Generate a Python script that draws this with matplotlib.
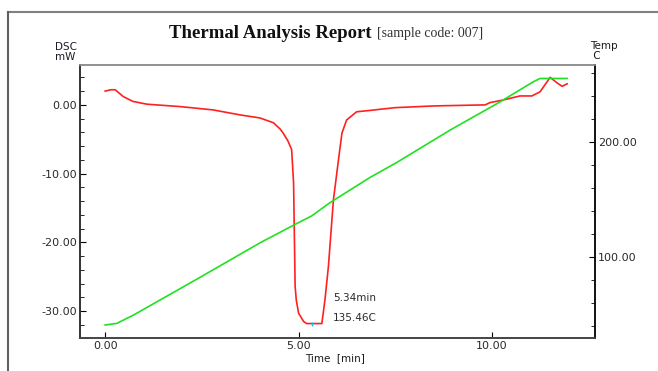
import matplotlib
matplotlib.use('Agg')
import matplotlib.pyplot as plt
from matplotlib.lines import Line2D

# DSC signal (left axis), time in minutes
dsc_time = [0.0, 0.15, 0.26, 0.47, 0.72, 1.08, 1.94, 2.79, 3.49, 4.0, 4.35, 4.52,
            4.60, 4.72, 4.82, 4.87, 4.91, 4.94, 5.0, 5.13, 5.21, 5.6, 5.68, 5.77,
            5.9, 6.03, 6.12, 6.24, 6.5, 6.85, 7.5, 8.5, 9.82, 9.95, 10.28, 10.72,
            11.03, 11.24, 11.5, 11.68, 11.81, 11.94]
dsc_mw = [2.0, 2.2, 2.2, 1.2, 0.5, 0.1, -0.25, -0.73, -1.46, -1.9, -2.6, -3.5,
          -4.1, -5.2, -6.5, -11.4, -26.4, -28.4, -30.3, -31.5, -31.8, -31.8, -28.4, -23.5,
          -13.8, -8.0, -4.1, -2.2, -1.0, -0.8, -0.4, -0.15, 0.0, 0.34, 0.7, 1.3,
          1.3, 1.9, 4.0, 3.2, 2.7, 3.06]

# Temperature (right axis)
temp_time = [0.0, 0.3, 0.72, 2.45, 4.0, 4.96, 5.34, 5.81, 6.85, 7.54, 8.91, 10.2,
             11.06, 11.24, 11.94]
temp_c = [40.6, 42.0, 49.0, 82.0, 112.0, 129.0, 135.5, 147.0, 169.0, 182.0, 210.0,
          234.5, 252.0, 255.0, 255.0]

# peak annotation
peak_time = 5.34
peak_temp = 135.46
peak_dsc = -31.8

x_ticks = [0, 5, 10]
left_ticks = [0, -10, -20, -30]
right_ticks = [100, 200]

W, H = 658, 371
fig = plt.figure(figsize=(W / 100, H / 100), dpi=100)

# outer report frame
fig.add_artist(Line2D([8 / W, 1], [1 - 12 / H, 1 - 12 / H], color='#808080', lw=1.5))
fig.add_artist(Line2D([8 / W, 8 / W], [1 - 12 / H, 0], color='#606060', lw=1.5))

ax = fig.add_axes([80 / W, 1 - 338 / H, (595 - 80) / W, (338 - 65) / H])
ax2 = ax.twinx()

ax.plot(dsc_time, dsc_mw, color='#ff2020', lw=1.2, zorder=3)
ax2.plot(temp_time, temp_c, color='#22e022', lw=1.2)
ax.plot([peak_time], [peak_dsc], marker='|', color='#00c8ff', ms=3, mew=1, zorder=4)

ax.set_xlim(-0.65, 12.66)
ax.set_ylim(-33.9, 5.8)
ax2.set_ylim(29.3, 266.7)

ax.set_xticks(x_ticks)
ax.set_xticklabels(['%.2f' % v for v in x_ticks])
ax.set_yticks(left_ticks)
ax.set_yticklabels(['%.2f' % v for v in left_ticks])
ax.set_yticks([v for v in range(-32, 6, 2) if v % 10 != 0], minor=True)
ax2.set_yticks(right_ticks)
ax2.set_yticklabels(['%.2f' % v for v in right_ticks])
ax2.set_yticks([40, 60, 80, 120, 140, 160, 180, 220, 240, 260], minor=True)

for a in (ax, ax2):
    a.tick_params(direction='in', length=4, width=0.8, labelsize=8,
                  labelcolor='#2a2a2a', pad=2)
    a.tick_params(which='minor', direction='in', length=3, width=0.6)
    for s in a.spines.values():
        s.set_linewidth(1.2)
    a.spines['top'].set_color('#909090')
    a.spines['left'].set_color('#333333')
    a.spines['bottom'].set_color('#444444')
    a.spines['right'].set_color('#111111')

ax.text(peak_time + 0.55, -28.1, '%.2fmin' % peak_time, fontsize=7.5,
        color='#2a2a2a', va='center')
ax.text(peak_time + 0.55, -31.0, '%.2fC' % peak_temp, fontsize=7.5,
        color='#2a2a2a', va='center')

fig.text(335 / W, 1 - 358 / H, 'Time  [min]', fontsize=7.5, color='#1a1a1a',
         ha='center', va='center')
fig.text(55 / W, 1 - 52 / H, 'DSC\nmW', fontsize=7.5, color='#1a1a2a',
         ha='left', va='center', linespacing=0.95)
fig.text(590 / W, 1 - 51 / H, 'Temp\n C', fontsize=7.5, color='#1a1a1a',
         ha='left', va='center', linespacing=0.95)

fig.text(372 / W, 1 - 34 / H, 'Thermal Analysis Report', family='Liberation Serif',
         fontweight='bold', fontsize=13.5, color='#111111', ha='right', va='center')
fig.text(377 / W, 1 - 34 / H, '[sample code: 007]', family='Liberation Serif',
         fontsize=10, color='#333333', ha='left', va='center')

fig.savefig('out.png', dpi=100)
